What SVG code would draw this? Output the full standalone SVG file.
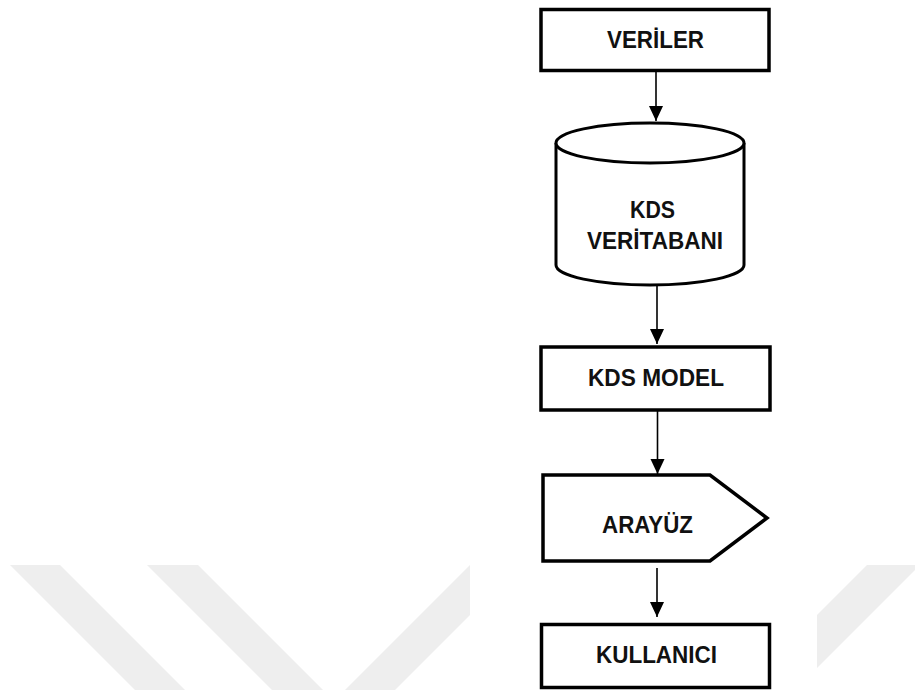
<svg xmlns="http://www.w3.org/2000/svg" width="915" height="690" viewBox="0 0 915 690">
  <defs>
    <style>
      .bg { fill: #ffffff; }
      .band { fill: #eeeeee; }
      .shape { fill: #ffffff; stroke: #000000; stroke-width: 3.5; stroke-linejoin: miter; }
      .cyl { fill: #ffffff; stroke: #000000; stroke-width: 3; }
      .lbl { font-family: "Liberation Sans", Arial, sans-serif; font-weight: bold; font-size: 24.5px; fill: #111111; text-anchor: middle; }
      .conn { stroke: #000000; stroke-width: 1.6; fill: none; marker-end: url(#arrow); }
    </style>
    <marker id="arrow" markerUnits="userSpaceOnUse" markerWidth="16" markerHeight="16" refX="15" refY="7" orient="auto">
      <path d="M0,0 L15,7 L0,14 Z" fill="#000000"/>
    </marker>
  </defs>

  <rect class="bg" x="0" y="0" width="915" height="690"/>

  <g id="watermark">
    <polygon class="band" points="10,565 60,565 185,690 135,690"/>
    <polygon class="band" points="147,565 198,565 323,690 272,690"/>
    <polygon class="band" points="470,565 470,615 395,690 345,690"/>
    <polygon class="band" points="867,565 915,565 915,570 817,668 817,615"/>
  </g>

  <g id="connectors">
    <line class="conn" x1="656" y1="71" x2="656" y2="121"/>
    <line class="conn" x1="657" y1="286" x2="657" y2="344"/>
    <line class="conn" x1="657.5" y1="411" x2="657.5" y2="474"/>
    <line class="conn" x1="657" y1="568" x2="657" y2="617"/>
  </g>

  <g id="veriler">
    <rect class="shape" x="541" y="9.5" width="228" height="61"/>
    <text class="lbl" x="655.5" y="48" textLength="97" lengthAdjust="spacingAndGlyphs">VERİLER</text>
  </g>

  <g id="kds-veritabani">
    <path class="cyl" d="M556,143 L556,265 A94,20 0 0,0 744,265 L744,143"/>
    <ellipse class="cyl" cx="650" cy="143" rx="94" ry="20"/>
    <text class="lbl" x="652.5" y="218" textLength="45" lengthAdjust="spacingAndGlyphs">KDS</text>
    <text class="lbl" x="655" y="249" textLength="136" lengthAdjust="spacingAndGlyphs">VERİTABANI</text>
  </g>

  <g id="kds-model">
    <rect class="shape" x="541" y="347" width="229" height="63"/>
    <text class="lbl" x="656" y="386" textLength="136" lengthAdjust="spacingAndGlyphs">KDS MODEL</text>
  </g>

  <g id="arayuz">
    <polygon class="shape" points="543,475 710,475 767,518 710,561 543,561"/>
    <text class="lbl" x="647.5" y="533" textLength="91" lengthAdjust="spacingAndGlyphs">ARAYÜZ</text>
  </g>

  <g id="kullanici">
    <rect class="shape" x="541.5" y="624.5" width="228" height="63"/>
    <text class="lbl" x="656.5" y="663" textLength="121" lengthAdjust="spacingAndGlyphs">KULLANICI</text>
  </g>
</svg>
